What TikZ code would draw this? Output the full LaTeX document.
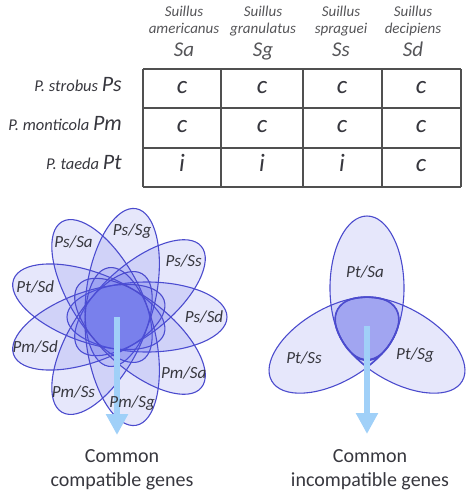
\documentclass[tikz,border=0pt]{standalone}
\usepackage{fontspec}
\setmainfont{Carlito}
\usepackage{xcolor}
\usetikzlibrary{positioning, arrows.meta}
\definecolor{texteGris}{RGB}{55,55,62}
\definecolor{enteteGris}{RGB}{85,85,88}
\definecolor{grilleGris}{RGB}{80,80,80}
\definecolor{bordPetale}{RGB}{75,75,205}
\definecolor{fondPetale}{RGB}{75,85,230}
\definecolor{fondCoeur}{RGB}{120,125,235}
\definecolor{bleuFleche}{RGB}{160,208,248}

\begin{document}
\begin{tikzpicture}[x=1pt, y=-1pt,
    petale/.style={draw=bordPetale, line width=1.1pt, fill=fondPetale, fill opacity=0.14},
    etiquette/.style={text=texteGris, font=\fontsize{17}{19}\selectfont\itshape, inner sep=0pt},
    genre/.style={text=enteteGris, font=\fontsize{15}{17}\selectfont\itshape, inner sep=0pt},
    abrev/.style={text=enteteGris, font=\fontsize{21}{24}\selectfont\itshape, inner sep=0pt},
    cellule/.style={text=texteGris, font=\fontsize{25}{28}\selectfont\itshape, inner sep=0pt},
    legende/.style={text=texteGris, font=\fontsize{20}{24}\selectfont, align=center, inner sep=0pt},
    fleche/.style={draw=bleuFleche, line width=6.5pt, -{Triangle[width=21pt, length=21pt]}}]
    % Parametres configurables
    \def\petalLength{80}  % demi grand axe des petales
    \def\petalWidth{35}   % demi petit axe des petales
    \def\petalShift{30}   % decalage du centre des petales
    \def\labelDist{87}    % distance des etiquettes au centre
    \def\lobeLength{72}   % demi grand axe des lobes (droite)
    \def\lobeWidth{37}    % demi petit axe des lobes
    \def\lobeShift{38}    % decalage du centre des lobes

    \useasboundingbox (0,0) rectangle (474,496);

    % En-tetes des colonnes
    \foreach \x/\esp/\abr [count=\i] in {184/americanus/Sa, 263/granulatus/Sg, 341/spraguei/Ss, 413/decipiens/Sd} {
        \node[genre, anchor=base] (genre\i) at (\x,16) {Suillus};
        \node[genre, anchor=base] (espece\i) at (\x,33) {\esp};
        \node[abrev, anchor=base] (abrev\i) at (\x,56) {\abr};
    }

    % Noms des lignes
    \node[genre, text=texteGris, anchor=base east] (rowPs) at (122,91) {\fontsize{16.5}{18}\selectfont P. strobus \fontsize{22}{24}\selectfont Ps};
    \node[genre, text=texteGris, anchor=base east] (rowPm) at (122,130) {\fontsize{16.5}{18}\selectfont P. monticola \fontsize{22}{24}\selectfont Pm};
    \node[genre, text=texteGris, anchor=base east] (rowPt) at (122,169.5) {\fontsize{16.5}{18}\selectfont P. taeda \fontsize{22}{24}\selectfont Pt};

    % Grille du tableau
    \foreach \x in {143,221,303,382,461} {
        \draw[grilleGris, line width=1.3pt] (\x,69) -- (\x,187);
    }
    \foreach \y in {69,108,148,187} {
        \draw[grilleGris, line width=1.3pt] (143,\y) -- (461,\y);
    }

    % Contenu des cellules
    \foreach \y/\a/\b/\c/\d [count=\j] in {93/c/c/c/c, 132.5/c/c/c/c, 171.5/i/i/i/c} {
        \node[cellule, anchor=base] (cell\j a) at (182,\y) {\a};
        \node[cellule, anchor=base] (cell\j b) at (262,\y) {\b};
        \node[cellule, anchor=base] (cell\j c) at (342,\y) {\c};
        \node[cellule, anchor=base] (cell\j d) at (421,\y) {\d};
    }

    % Fleur des combinaisons compatibles
    \coordinate (flowerC) at (117,317);
    \foreach \ang in {0,40,...,320} {
        \begin{scope}[shift={(flowerC)}, rotate=\ang]
            \draw[petale] (\petalShift,0) ellipse [x radius=\petalLength, y radius=\petalWidth];
        \end{scope}
    }
    \coordinate (flowerTip) at (117,435);
    \draw[fleche] (flowerC) -- (flowerTip);
    \foreach \ang/\txt [count=\i] in {0/Ps\slash Sd, 40/Ps\slash Ss, 80/Ps\slash Sg, 120/Ps\slash Sa, 160/Pt\slash Sd, 200/Pm\slash Sd, 240/Pm\slash Ss, 280/Pm\slash Sg, 320/Pm\slash Sa} {
        \begin{scope}[shift={(flowerC)}, rotate=\ang]
            \node[etiquette] (petal\i) at (\labelDist,0) {\txt};
        \end{scope}
    }
    \node[legende, anchor=north] (compat) at (122,449) {Common\\compatible genes};

    % Trefle des combinaisons incompatibles
    \coordinate (trefoilC) at (367,326);
    \foreach \ang in {90,-30,210} {
        \begin{scope}[shift={(trefoilC)}, rotate=\ang]
            \draw[petale] (\lobeShift,0) ellipse [x radius=\lobeLength, y radius=\lobeWidth];
        \end{scope}
    }
    % Zone commune aux trois lobes
    \begin{scope}[shift={(trefoilC)}]
        \clip[rotate=-30] (\lobeShift,0) ellipse [x radius=\lobeLength, y radius=\lobeWidth];
        \clip[rotate=210] (\lobeShift,0) ellipse [x radius=\lobeLength, y radius=\lobeWidth];
        \fill[fondCoeur, fill opacity=0.4, rotate=90] (\lobeShift,0) ellipse [x radius=\lobeLength, y radius=\lobeWidth];
        \foreach \ang in {90,-30,210} {
            \draw[bordPetale, line width=2.2pt, rotate=\ang] (\lobeShift,0) ellipse [x radius=\lobeLength, y radius=\lobeWidth];
        }
    \end{scope}
    \coordinate (trefoilTip) at (367,434);
    \draw[fleche] (trefoilC) -- (trefoilTip);
    \node[etiquette] (lobeSa) at (365,272) {Pt/Sa};
    \node[etiquette] (lobeSs) at (304,358) {Pt/Ss};
    \node[etiquette] (lobeSg) at (415,355) {Pt/Sg};
    \node[legende, anchor=north] (incompat) at (370,449) {Common\\incompatible genes};

\end{tikzpicture}
\end{document}
